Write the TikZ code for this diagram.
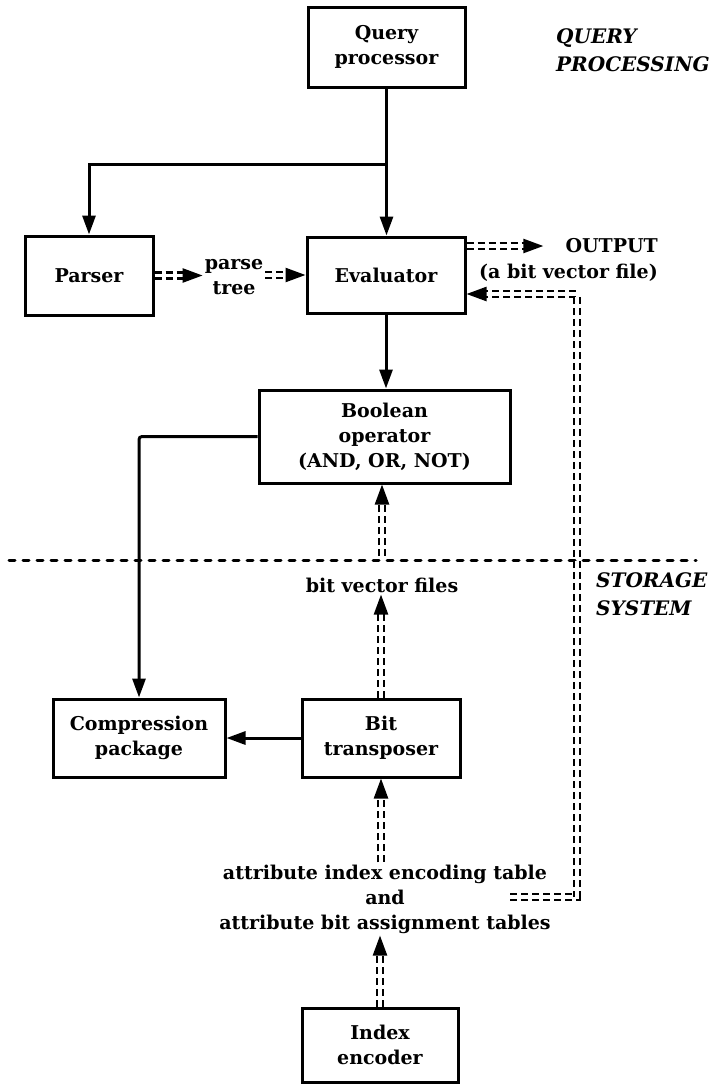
\documentclass[tikz,border=0pt]{standalone}
\usepackage{fontspec}
\setmainfont{DejaVu Serif}
\usetikzlibrary{arrows.meta,calc}
\begin{document}
\begin{tikzpicture}[x=1pt,y=-1pt,
  txt/.style={font=\bfseries\fontsize{19}{25}\selectfont, align=center, inner sep=2pt},
  box/.style={txt, draw, line width=3pt, inner sep=0pt},
  itl/.style={font=\bfseries\itshape\fontsize{20}{28}\selectfont, align=left, inner sep=0pt, anchor=west},
  sol/.style={line width=3pt, -{Triangle[length=19pt,width=13pt]}},
  dd/.style={double, double distance=3.5pt, line width=2.4pt, dash pattern=on 7pt off 4pt, -{Triangle[length=20pt,width=14pt]}},
  sepline/.style={line width=3pt, line cap=round, dash pattern=on 6pt off 8pt}
]
\useasboundingbox (0,0) rectangle (723,1084);

% boxes
\node[box, minimum width=157pt, minimum height=80pt] (qp) at (386.5,47) {Query\\processor};
\node[box, minimum width=128pt, minimum height=79pt] (parser) at (89,275.5) {Parser};
\node[box, minimum width=158pt, minimum height=76pt] (eval) at (386,275) {Evaluator};
\node[box, minimum width=251pt, minimum height=93pt] (bool) at (384.5,436.5) {Boolean\\operator\\(AND, OR, NOT)};
\node[box, minimum width=172pt, minimum height=78pt] (comp) at (139,738) {Compression\\package};
\node[box, minimum width=158pt, minimum height=78pt] (bt) at (381,738) {Bit\\transposer};
\node[box, minimum width=156pt, minimum height=74pt] (ie) at (380,1045) {Index\\encoder};

% labels
\node[txt] (pt) at (234,277) {parse\\tree};
\node[txt, anchor=east, inner sep=0pt] (outA) at (658,246) {OUTPUT};
\node[txt, anchor=east, inner sep=0pt] (outB) at (658,273) {(a bit vector file)};
\node[txt] (bvf) at (382,585) {bit vector files};
\node[txt] (tb) at (385,899) {attribute index encoding table\\and\\attribute bit assignment tables};
\node[itl] (qpl) at (556,50) {QUERY\\PROCESSING};
\node[itl] (ssl) at (596,594) {STORAGE\\SYSTEM};

% separator
\coordinate (sepL) at (9,560);
\coordinate (sepR) at (696,560);
\draw[sepline] (sepL) -- (sepR);

% solid connectors
\coordinate (j) at (387,164);
\draw[sol] (qp.south) -- (qp.south |- eval.north);
\draw[sol] (qp.south |- j) -| (parser.north);
\draw[sol] (eval.south) -- (eval.south |- bool.north);
\draw[sol, rounded corners=3pt] (bool.west) -| (comp.north);
\draw[sol] (bt.west) -- (comp.east);

% double dashed connectors
\draw[dd] (parser.east) -- (parser.east -| pt.west);
\draw[dd] (pt.east |- eval.west) -- (eval.west);
\draw[dd] (eval.east |- outA) -- ([xshift=-22pt]outA.west);
\coordinate (fb0) at (510,897);
\coordinate (fbtop) at (577,294);
\draw[dd] (fb0) -| (fbtop) -- (eval.east |- fbtop);
\coordinate (bvtop) at (382,556);
\draw[dd] (bvtop) -- (bvtop |- bool.south);
\draw[dd] (bt.north) -- (bt.north |- bvf.south);
\draw[dd] (tb.north -| bt.south) -- (bt.south);
\draw[dd] (ie.north) -- (ie.north |- tb.south);
\end{tikzpicture}
\end{document}
